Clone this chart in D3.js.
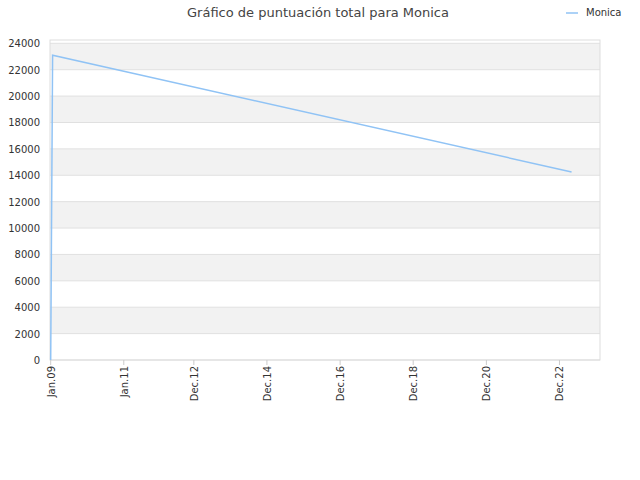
<!DOCTYPE html>
<html><head><meta charset="utf-8">
<script src="https://cdn.jsdelivr.net/npm/d3@7"></script>
<style>body{margin:0;background:#fff;font-family:"DejaVu Sans",sans-serif}</style>
</head><body><svg id="c" width="640" height="480"></svg>
<script>
const seriesName = "Monica";
const dates = ["2009-01-01","2009-01-20","2023-04-01"];
const values = [0, 23100, 14250];
const xTickDates = ["2009-01-01","2011-01-01","2012-12-01","2014-12-01","2016-12-01","2018-12-01","2020-12-01","2022-12-01"];
const xTickLabels = ["Jan.09","Jan.11","Dec.12","Dec.14","Dec.16","Dec.18","Dec.20","Dec.22"];
const yTicks = d3.range(0, 24001, 2000);

const svg = d3.select("#c");
const L=50,R=600,T=40,B=360;
const p = d3.timeParse("%Y-%m-%d");
const x = d3.scaleTime().domain([p("2008-12-25"), p("2024-01-10")]).range([L,R]);
const y = d3.scaleLinear().domain([0,24250]).range([B,T]);

for (let i=0;i<yTicks.length;i++){
  const lo=yTicks[i], hi = i<yTicks.length-1? yTicks[i+1] : 24250;
  svg.append("rect").attr("x",L).attr("width",R-L).attr("y",y(hi)).attr("height",y(lo)-y(hi))
    .attr("fill", i%2===1 ? "#f2f2f2" : "#fff");
}
svg.selectAll(".g").data(yTicks).enter().append("line").attr("x1",L).attr("x2",R)
  .attr("y1",d=>y(d)).attr("y2",d=>y(d)).attr("stroke","#e0e0e0");
svg.append("rect").attr("x",L).attr("y",T).attr("width",R-L).attr("height",B-T).attr("fill","none").attr("stroke","#ddd");

svg.selectAll(".yl").data(yTicks).enter().append("text").attr("x",40).attr("y",d=>y(d)+4)
  .attr("text-anchor","end").attr("font-size",10).attr("fill","#333").text(d=>d);

xTickDates.forEach((d,i)=>{
  const xx=x(p(d));
  svg.append("line").attr("x1",xx).attr("x2",xx).attr("y1",B).attr("y2",B+5).attr("stroke","#ccc");
  svg.append("text").attr("transform",`translate(${xx+4},${B+6}) rotate(-90)`).attr("text-anchor","end")
    .attr("font-size",10).attr("fill","#333").text(xTickLabels[i]);
});

const data = dates.map((d,i)=>({d:p(d),v:values[i]}));
svg.append("path").datum(data).attr("fill","none").attr("stroke","#90c3f5").attr("stroke-width",1.5)
  .attr("d",d3.line().x(d=>x(d.d)).y(d=>y(d.v)));

svg.append("text").attr("x",318).attr("y",17).attr("text-anchor","middle").attr("font-size",13)
  .attr("fill","#444").text("Gráfico de puntuación total para " + seriesName);
svg.append("line").attr("x1",566).attr("x2",578).attr("y1",13).attr("y2",13).attr("stroke","#90c3f5").attr("stroke-width",1.5);
svg.append("text").attr("x",586).attr("y",16).attr("font-size",10).attr("fill","#333").text(seriesName);
</script></body></html>
